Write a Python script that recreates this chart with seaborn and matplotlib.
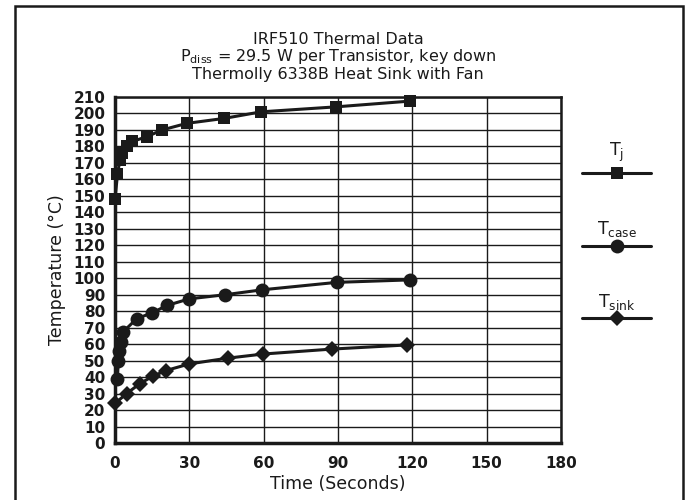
import matplotlib
matplotlib.use("Agg")
import matplotlib.pyplot as plt
import seaborn as sns
import pandas as pd
from matplotlib.lines import Line2D
from matplotlib.patches import Rectangle

# ---- data ----
time_tj = [0, 1, 2, 3, 5, 7, 13, 19, 29, 44, 59, 89, 119]
temp_tj = [148, 163, 172, 176, 180, 183, 186, 190, 194, 197, 201, 204, 207.5]

time_case = [1, 1.3, 1.8, 2.3, 3.3, 8.8, 15, 21, 30, 44.5, 59.5, 89.5, 119]
temp_case = [39, 50, 56, 61.5, 67.5, 75.5, 79, 83.5, 87.5, 90, 93, 97.5, 99]

time_sink = [0, 4.7, 10, 15.2, 20.6, 30, 45.5, 59.8, 87.5, 117.7]
temp_sink = [24, 30, 36, 40.5, 44, 48, 51.5, 54, 57, 59.5]

x_ticks = [0, 30, 60, 90, 120, 150, 180]
y_ticks = list(range(0, 211, 10))

title_lines = ["IRF510 Thermal Data",
               r"P$_{\mathrm{diss}}$ = 29.5 W per Transistor, key down",
               "Thermolly 6338B Heat Sink with Fan"]
legend_labels = [r"T$_{\mathrm{j}}$", r"T$_{\mathrm{case}}$", r"T$_{\mathrm{sink}}$"]

sns.set_theme(style="white")
plt.rcParams['font.family'] = ['DejaVu Sans']
plt.rcParams['mathtext.fontset'] = 'dejavusans'

INK = "#1a1a1a"
fig = plt.figure(figsize=(6.93, 5.0), dpi=100)
ax = fig.add_axes([115/693, 1-443/500, (561-115)/693, (443-97)/500])

df_tj = pd.DataFrame({"t": time_tj, "T": temp_tj})
df_case = pd.DataFrame({"t": time_case, "T": temp_case})
df_sink = pd.DataFrame({"t": time_sink, "T": temp_sink})

kw = dict(color=INK, linewidth=2.2, legend=False, sort=False, zorder=5,
          clip_on=False)
sns.lineplot(data=df_tj, x="t", y="T", ax=ax, marker="s", markersize=8,
             markeredgewidth=0, **kw)
sns.lineplot(data=df_case, x="t", y="T", ax=ax, marker="o", markersize=10,
             markeredgewidth=0, **kw)
sns.lineplot(data=df_sink, x="t", y="T", ax=ax, marker="D", markersize=8,
             markeredgewidth=0, **kw)

ax.set_xlim(0, 180)
ax.set_ylim(0, 210)
ax.set_xticks(x_ticks)
ax.set_yticks(y_ticks)
ax.tick_params(axis='both', labelsize=11, colors=INK, length=5, width=1.5)
ax.tick_params(axis='y', direction='out', pad=2)
ax.tick_params(axis='x', direction='out', pad=4)
for lab in ax.get_xticklabels() + ax.get_yticklabels():
    lab.set_fontweight('bold')
    lab.set_color(INK)
ax.grid(True, color=INK, linewidth=1.0)
for side in ["left", "bottom"]:
    ax.spines[side].set_linewidth(2.5)
    ax.spines[side].set_color(INK)
for side in ["top", "right"]:
    ax.spines[side].set_linewidth(1.8)
    ax.spines[side].set_color(INK)

ax.set_xlabel("Time (Seconds)", fontsize=12.5, color=INK, labelpad=3)
ax.set_ylabel("Temperature (°C)", fontsize=12.5, color=INK, labelpad=5)

for i, line in enumerate(title_lines):
    fig.text(338/693, 1 - (40 + 17*i)/500, line, ha='center', va='center',
             fontsize=11.5, color=INK)

# legend drawn at the right side
leg_specs = [("s", 8, 152, 173), ("o", 10, 229, 246), ("D", 8, 302, 318)]
for (mk, ms, ty, ly), lab in zip(leg_specs, legend_labels):
    fig.add_artist(Line2D([582/693, 651/693], [1-ly/500, 1-ly/500],
                          color=INK, linewidth=2.2,
                          transform=fig.transFigure))
    fig.add_artist(Line2D([617/693], [1-ly/500], color=INK, marker=mk,
                          markersize=ms, markeredgewidth=0,
                          transform=fig.transFigure))
    fig.text(617/693, 1-ty/500, lab, ha='center', va='center', fontsize=12.5,
             color=INK)

# outer frame
fig.add_artist(Rectangle((15/693, -0.05), (683-15)/693, 1.05 - 6/500,
                         transform=fig.transFigure, fill=False,
                         edgecolor=INK, linewidth=1.8))

fig.savefig("out.png", dpi=100, facecolor="white")
